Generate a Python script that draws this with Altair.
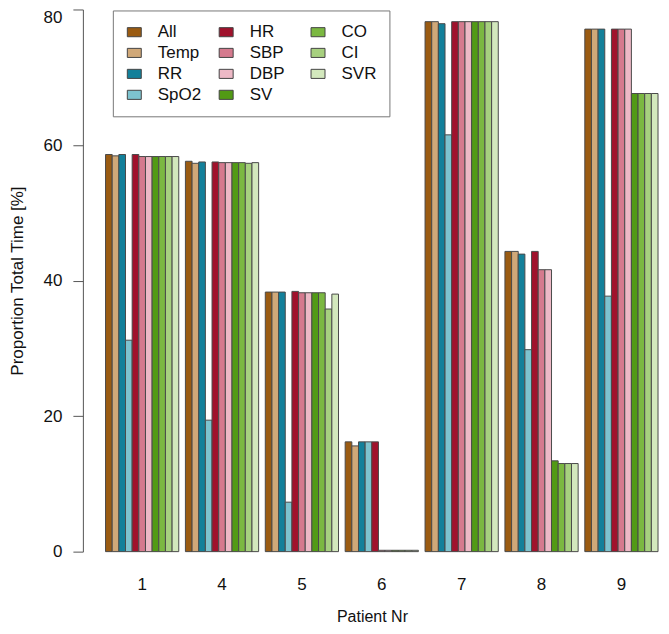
import altair as alt
import pandas as pd

patients = ["1", "4", "5", "6", "7", "8", "9"]
series = ["All", "Temp", "RR", "SpO2", "HR", "SBP", "DBP", "SV", "CO", "CI", "SVR"]
colors = ["#9A5B12", "#D0A878", "#13809A", "#7DC3CF", "#A0122C", "#D57A8E",
          "#EDB9C6", "#529A15", "#7BB841", "#A7D07F", "#D3E8BD"]

p1 = [58.6, 58.4, 58.6, 31.2, 58.6, 58.3, 58.3, 58.3, 58.3, 58.3, 58.3]
p4 = [57.6, 57.3, 57.5, 19.4, 57.5, 57.4, 57.4, 57.4, 57.4, 57.3, 57.4]
p5 = [38.3, 38.3, 38.3, 7.3, 38.4, 38.2, 38.2, 38.2, 38.2, 35.8, 38.0]
p6 = [16.2, 15.6, 16.2, 16.2, 16.2, 0.2, 0.2, 0.2, 0.2, 0.2, 0.2]
p7 = [78.2, 78.2, 77.9, 61.5, 78.2, 78.2, 78.2, 78.2, 78.2, 78.2, 78.2]
p8 = [44.3, 44.3, 43.9, 29.8, 44.3, 41.6, 41.6, 13.4, 13.0, 13.0, 13.0]
p9 = [77.1, 77.1, 77.1, 37.7, 77.1, 77.1, 77.1, 67.6, 67.6, 67.6, 67.6]

values = [p1, p4, p5, p6, p7, p8, p9]

rows = []
for pat, vals in zip(patients, values):
    for s, v in zip(series, vals):
        rows.append({"patient": pat, "series": s, "value": v})
df = pd.DataFrame(rows)

FONT = "Liberation Sans"

chart = alt.Chart(df).mark_bar(stroke="#4a4a4a", strokeWidth=1).encode(
    x=alt.X("patient:N", sort=patients,
            scale=alt.Scale(paddingInner=1/12, paddingOuter=0.1604, align=0.884),
            axis=alt.Axis(title="Patient Nr", labelAngle=0, labelFontSize=17,
                          labelColor="#111", tickSize=0, domain=False,
                          labelPadding=25, titleFontSize=16, titleFontWeight="normal",
                          titleColor="#111", titlePadding=16)),
    xOffset=alt.XOffset("series:N", sort=series,
                        scale=alt.Scale(paddingInner=0, paddingOuter=0)),
    y=alt.Y("value:Q", scale=alt.Scale(domain=[0, 80], nice=False),
            axis=alt.Axis(title="Proportion Total Time [%]", values=[0, 20, 40, 60, 80],
                          grid=False, labelFontSize=17, labelColor="#111",
                          labelBaseline={"condition": {"test": "datum.value == 80",
                                                       "value": "top"},
                                         "value": "middle"},
                          labelPadding=11, tickSize=10, tickColor="#555",
                          domainColor="#555", titleFontSize=17,
                          titleFontWeight="normal", titleColor="#111",
                          titlePadding=17)),
    color=alt.Color("series:N",
                    scale=alt.Scale(domain=series, range=colors),
                    legend=alt.Legend(orient="none", legendX=30, legendY=1,
                                      columns=3, title=None,
                                      symbolType="M-1,-0.65L1,-0.65L1,0.65L-1,0.65Z",
                                      symbolSize=196, symbolStrokeColor="#444",
                                      symbolStrokeWidth=1, symbolOpacity=1,
                                      labelFontSize=17, labelColor="#111",
                                      labelOffset=15, rowPadding=3,
                                      columnPadding=15, gridAlign="all",
                                      padding=13, strokeColor="#777",
                                      fillColor="white")),
).properties(
    width=579, height=543,
    padding={"left": 0, "top": 0, "right": 0, "bottom": 0},
).configure(font=FONT).configure_view(stroke=None)

chart.save("out.html", embed_options={"renderer": "svg", "actions": False})
